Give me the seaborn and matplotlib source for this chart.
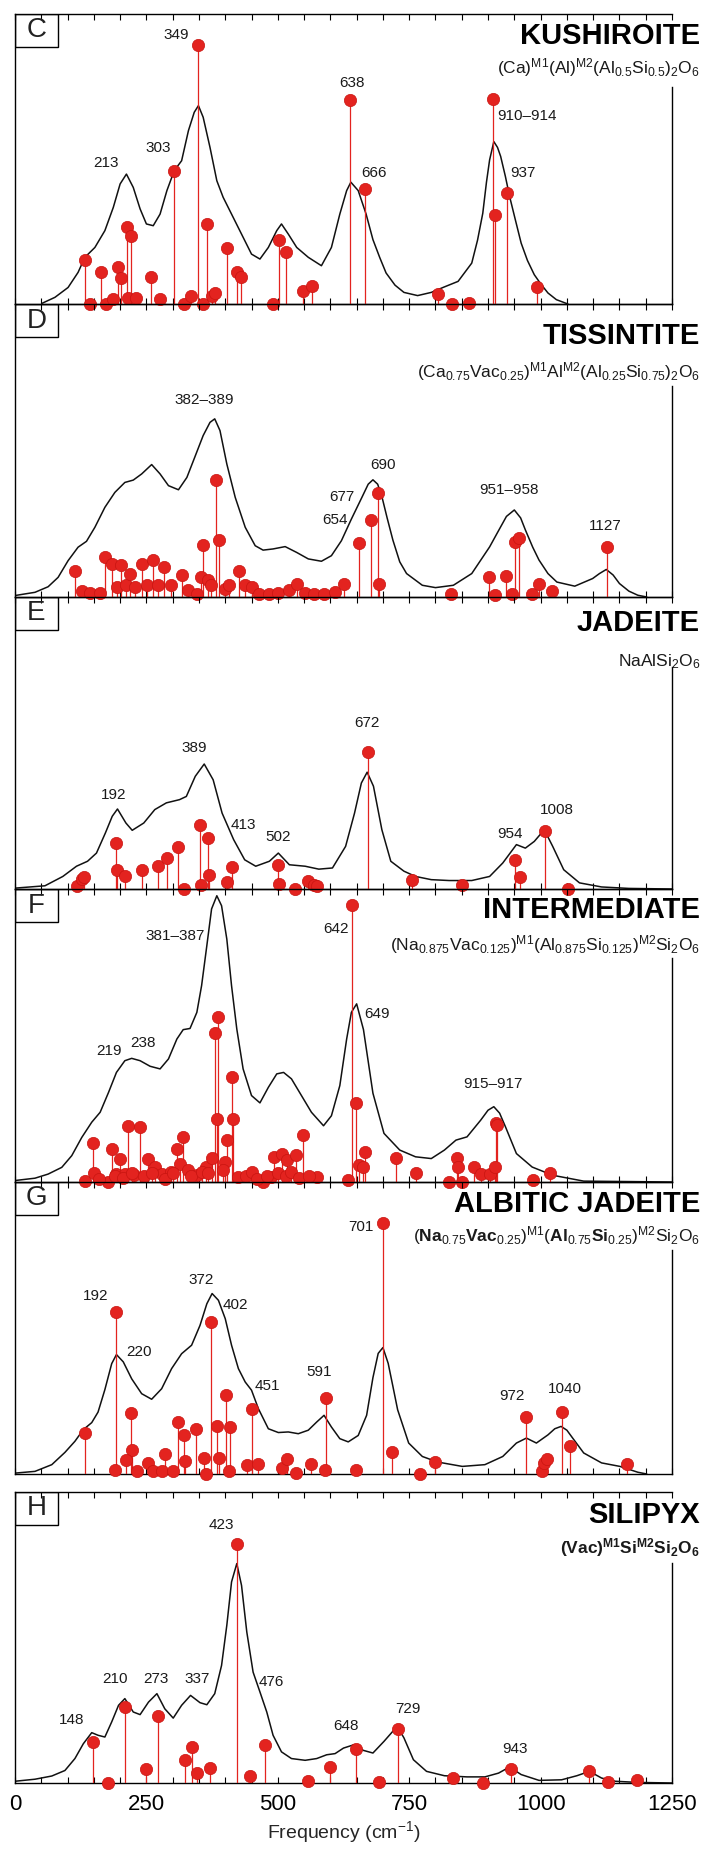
import matplotlib
matplotlib.use("Agg")
import pandas as pd
from matplotlib import pyplot as plt
from matplotlib.patches import Rectangle
import seaborn as sns

# ---------- C : kushiroite ----------
C_CURVE_FREQ = [51, 76, 101, 120, 133, 152, 171, 187, 200, 212, 225, 238, 250, 263, 276, 289, 303, 317, 330, 341,
                349, 358, 371, 384, 396, 412, 431, 450, 466, 482, 498, 507, 520, 536, 558, 583, 602, 618, 631, 639,
                653, 668, 681, 694, 706, 723, 740, 766, 792, 817, 843, 869, 880, 890, 897, 903, 911, 918, 924, 933,
                941, 952, 963, 975, 988, 1000, 1014, 1030, 1052]
C_CURVE_INT = [0.002, 0.023, 0.057, 0.109, 0.161, 0.195, 0.253, 0.333, 0.414, 0.448, 0.402, 0.328, 0.276, 0.270,
               0.310, 0.391, 0.460, 0.494, 0.598, 0.661, 0.684, 0.644, 0.540, 0.425, 0.368, 0.310, 0.241, 0.172,
               0.155, 0.195, 0.253, 0.276, 0.241, 0.195, 0.161, 0.132, 0.195, 0.310, 0.391, 0.420, 0.391, 0.31,
               0.222, 0.16, 0.107, 0.065, 0.040, 0.029, 0.040, 0.059, 0.078, 0.141, 0.22, 0.313, 0.42, 0.497,
               0.560, 0.54, 0.509, 0.44, 0.371, 0.29, 0.210, 0.15, 0.101, 0.07, 0.038, 0.015, 0.0]
C_MODE_FREQ = [134, 142, 164, 174, 187, 196, 202, 213, 221, 215, 230, 258, 275, 303, 322, 334, 349, 358, 366, 375,
               381, 403, 422, 430, 491, 503, 515, 548, 565, 638, 666, 804, 831, 864, 910, 914, 937, 994]
C_MODE_INT = [0.153, 0.001, 0.109, 0.001, 0.017, 0.126, 0.090, 0.264, 0.233, 0.021, 0.021, 0.092, 0.018, 0.457,
              0.001, 0.029, 0.892, 0.001, 0.276, 0.029, 0.038, 0.192, 0.109, 0.093, 0.001, 0.219, 0.180, 0.044,
              0.061, 0.704, 0.396, 0.036, 0.001, 0.003, 0.707, 0.308, 0.382, 0.057]
C_LABELS = ["213", "303", "349", "638", "666", "910\u2013914", "937"]
C_LABEL_FREQ = [174, 273, 306, 642, 683, 975, 967]
C_LABEL_INT = [0.486, 0.537, 0.928, 0.761, 0.453, 0.649, 0.453]

# ---------- D : tissintite ----------
D_CURVE_FREQ = [0, 38, 63, 82, 101, 120, 136, 152, 171, 190, 209, 225, 241, 260, 276, 292, 311, 327, 342, 358,
                371, 380, 390, 403, 419, 438, 457, 472, 491, 514, 536, 558, 583, 602, 621, 640, 660, 672, 681, 690,
                698, 708, 719, 732, 745, 775, 800, 834, 869, 903, 918, 935, 950, 962, 971, 985, 997, 1014, 1031, 1065,
                1099, 1112, 1125, 1138, 1150, 1168, 1185, 1202]
D_CURVE_INT = [0.005, 0.016, 0.035, 0.067, 0.124, 0.170, 0.190, 0.238, 0.306, 0.357, 0.391, 0.399, 0.420, 0.452,
               0.420, 0.380, 0.366, 0.408, 0.477, 0.551, 0.596, 0.608, 0.568, 0.454, 0.340, 0.238, 0.175, 0.160,
               0.164, 0.172, 0.152, 0.130, 0.122, 0.141, 0.192, 0.266, 0.340, 0.385, 0.400, 0.385, 0.343, 0.27,
               0.194, 0.12, 0.080, 0.040, 0.032, 0.040, 0.080, 0.171, 0.22, 0.275, 0.297, 0.27, 0.229, 0.17,
               0.126, 0.08, 0.051, 0.037, 0.063, 0.08, 0.094, 0.075, 0.046, 0.02, 0.006, 0.0]
D_MODE_FREQ = [114, 128, 142, 161, 171, 185, 195, 202, 211, 219, 228, 241, 251, 262, 272, 283, 296, 317, 330, 347,
               353, 358, 367, 373, 382, 389, 399, 407, 427, 437, 450, 465, 484, 501, 522, 537, 552, 569, 587, 608,
               625, 654, 677, 690, 692, 830, 901, 913, 935, 945, 951, 958, 984, 997, 1022, 1127]
D_MODE_INT = [0.089, 0.021, 0.014, 0.014, 0.135, 0.114, 0.034, 0.109, 0.040, 0.080, 0.034, 0.114, 0.040, 0.126,
              0.040, 0.103, 0.040, 0.074, 0.023, 0.011, 0.069, 0.179, 0.057, 0.040, 0.400, 0.194, 0.029, 0.040,
              0.089, 0.040, 0.034, 0.011, 0.011, 0.014, 0.023, 0.043, 0.014, 0.011, 0.011, 0.017, 0.043, 0.183,
              0.263, 0.354, 0.043, 0.009, 0.069, 0.006, 0.071, 0.011, 0.189, 0.203, 0.011, 0.043, 0.021, 0.169]
D_LABELS = ["382\u2013389", "654", "677", "690", "951\u2013958", "1127"]
D_LABEL_FREQ = [360, 608, 622, 700, 939, 1123]
D_LABEL_INT = [0.672, 0.263, 0.341, 0.451, 0.366, 0.242]

# ---------- E : jadeite ----------
E_CURVE_FREQ = [0, 57, 91, 117, 138, 155, 172, 185, 195, 211, 223, 245, 266, 288, 313, 326, 343, 360, 377, 394,
                416, 437, 458, 484, 501, 522, 552, 578, 604, 629, 646, 659, 670, 682, 698, 715, 740, 762, 792, 826,
                869, 903, 928, 954, 971, 988, 1007, 1023, 1044, 1074, 1116, 1168, 1250]
E_CURVE_INT = [0.003, 0.011, 0.043, 0.078, 0.095, 0.123, 0.192, 0.249, 0.274, 0.226, 0.201, 0.226, 0.272, 0.295,
               0.306, 0.317, 0.386, 0.428, 0.374, 0.260, 0.169, 0.100, 0.078, 0.095, 0.123, 0.083, 0.078, 0.068,
               0.072, 0.146, 0.260, 0.363, 0.400, 0.352, 0.203, 0.095, 0.061, 0.043, 0.032, 0.029, 0.029, 0.043,
               0.089, 0.152, 0.140, 0.163, 0.203, 0.146, 0.066, 0.021, 0.007, 0.002, 0.0]
E_MODE_FREQ = [118, 127, 132, 192, 194, 209, 242, 272, 289, 311, 322, 352, 353, 367, 370, 403, 413, 501, 502, 533,
               557, 568, 574, 672, 755, 850, 952, 960, 1008, 1052]
E_MODE_INT = [0.009, 0.034, 0.040, 0.158, 0.064, 0.046, 0.066, 0.080, 0.106, 0.144, 0.0, 0.220, 0.013, 0.175,
              0.049, 0.023, 0.075, 0.083, 0.018, 0.0, 0.026, 0.015, 0.011, 0.470, 0.030, 0.015, 0.100, 0.041,
              0.200, 0.0]
E_LABELS = ["192", "389", "413", "502", "672", "954", "1008"]
E_LABEL_FREQ = [187, 341, 435, 501, 670, 941, 1031]
E_LABEL_INT = [0.323, 0.483, 0.220, 0.178, 0.568, 0.188, 0.269]

# ---------- F : intermediate ----------
F_CURVE_FREQ = [0, 38, 63, 89, 108, 127, 146, 162, 178, 193, 209, 222, 238, 257, 276, 292, 308, 320, 333, 346,
                355, 365, 374, 384, 393, 403, 412, 422, 434, 450, 466, 482, 498, 511, 526, 545, 564, 587, 602, 618,
                631, 640, 650, 663, 681, 702, 732, 762, 792, 817, 839, 860, 886, 900, 911, 922, 933, 954, 984, 1023,
                1082, 1250]
F_CURVE_INT = [0.005, 0.013, 0.027, 0.050, 0.090, 0.152, 0.204, 0.238, 0.306, 0.374, 0.414, 0.422, 0.414, 0.395,
               0.386, 0.420, 0.488, 0.520, 0.524, 0.579, 0.670, 0.807, 0.932, 0.977, 0.943, 0.829, 0.670, 0.522,
               0.386, 0.295, 0.270, 0.323, 0.369, 0.374, 0.352, 0.295, 0.238, 0.192, 0.226, 0.329, 0.488, 0.579,
               0.608, 0.52, 0.303, 0.166, 0.109, 0.086, 0.080, 0.109, 0.143, 0.154, 0.211, 0.245, 0.257, 0.235,
               0.189, 0.097, 0.051, 0.023, 0.003, 0.0]
F_MODE_FREQ = [134, 149, 151, 176, 185, 193, 200, 210, 215, 227, 238, 253, 266, 279, 296, 309, 313, 320, 330, 347,
               364, 374, 381, 384, 387, 399, 404, 412, 414, 425, 471, 488, 493, 508, 518, 535, 548, 574, 633, 642,
               649, 655, 663, 665, 725, 762, 826, 841, 843, 851, 873, 886, 903, 914, 915, 917, 985, 1018,
               160, 190, 205, 222, 245, 260, 285, 300, 335, 355, 368, 395, 440, 450, 460, 480, 500, 515, 525, 540, 560]
F_MODE_INT = [0.002, 0.134, 0.031, 0.0, 0.114, 0.029, 0.080, 0.029, 0.191, 0.023, 0.189, 0.080, 0.051, 0.029,
              0.034, 0.114, 0.063, 0.155, 0.040, 0.023, 0.051, 0.082, 0.509, 0.215, 0.562, 0.069, 0.143, 0.357,
              0.214, 0.017, 0.0, 0.017, 0.086, 0.097, 0.074, 0.091, 0.160, 0.017, 0.006, 0.947, 0.271, 0.057,
              0.051, 0.103, 0.082, 0.031, 0.0, 0.082, 0.051, 0.0, 0.051, 0.029, 0.029, 0.051, 0.200, 0.194,
              0.006, 0.032,
              0.01, 0.02, 0.015, 0.03, 0.02, 0.03, 0.01, 0.03, 0.02, 0.035, 0.03, 0.04, 0.02, 0.035, 0.01, 0.02,
              0.03, 0.02, 0.035, 0.015, 0.02]
F_LABELS = ["219", "238", "381\u2013387", "642", "649", "915\u2013917"]
F_LABEL_FREQ = [179, 243, 305, 611, 689, 909]
F_LABEL_INT = [0.446, 0.474, 0.838, 0.863, 0.575, 0.335]

# ---------- G : albitic jadeite ----------
G_CURVE_FREQ = [0, 38, 70, 95, 114, 130, 146, 158, 171, 184, 193, 206, 222, 241, 260, 279, 298, 317, 336, 352,
                365, 375, 387, 400, 412, 425, 438, 450, 463, 482, 501, 520, 539, 558, 574, 588, 602, 618, 634, 653,
                669, 681, 691, 700, 710, 719, 728, 749, 775, 804, 851, 894, 928, 954, 973, 992, 1014, 1027, 1039,
                1050, 1061, 1082, 1116, 1151, 1185, 1202]
G_CURVE_INT = [0.003, 0.009, 0.032, 0.074, 0.112, 0.152, 0.176, 0.212, 0.289, 0.378, 0.409, 0.384, 0.326, 0.275,
               0.256, 0.292, 0.361, 0.412, 0.441, 0.509, 0.583, 0.618, 0.595, 0.532, 0.441, 0.361, 0.315, 0.287,
               0.224, 0.155, 0.142, 0.144, 0.138, 0.150, 0.178, 0.201, 0.161, 0.121, 0.110, 0.132, 0.201, 0.33,
               0.413, 0.433, 0.379, 0.30, 0.220, 0.106, 0.060, 0.041, 0.026, 0.032, 0.060, 0.106, 0.123, 0.106,
               0.134, 0.155, 0.163, 0.150, 0.123, 0.072, 0.038, 0.026, 0.006, 0.0]
G_MODE_FREQ = [134, 192, 190, 220, 222, 211, 232, 253, 262, 279, 286, 300, 311, 322, 324, 345, 360, 364, 372, 384,
               388, 402, 410, 407, 451, 441, 463, 508, 518, 535, 563, 591, 589, 649, 701, 717, 770, 800, 972, 1003,
               1007, 1012, 1040, 1055, 1165]
G_MODE_INT = [0.140, 0.554, 0.015, 0.208, 0.081, 0.049, 0.009, 0.038, 0.009, 0.009, 0.069, 0.009, 0.178, 0.134,
              0.043, 0.154, 0.055, 0.0, 0.522, 0.163, 0.055, 0.271, 0.161, 0.009, 0.222, 0.032, 0.034, 0.021,
              0.051, 0.003, 0.035, 0.260, 0.015, 0.015, 0.861, 0.077, 0.0, 0.040, 0.194, 0.009, 0.038, 0.051,
              0.212, 0.095, 0.035]
G_LABELS = ["192", "220", "372", "402", "451", "591", "701", "972", "1040"]
G_LABEL_FREQ = [153, 235, 354, 420, 480, 578, 659, 945, 1046]
G_LABEL_INT = [0.610, 0.419, 0.664, 0.579, 0.303, 0.351, 0.846, 0.268, 0.290]

# ---------- H : silipyx ----------
H_CURVE_FREQ = [0, 38, 70, 95, 114, 130, 146, 158, 171, 184, 197, 209, 225, 238, 254, 270, 285, 301, 317, 334,
                352, 365, 380, 393, 403, 412, 422, 431, 441, 453, 466, 479, 491, 507, 526, 552, 574, 593, 609, 625,
                644, 663, 681, 702, 719, 730, 740, 758, 783, 817, 860, 894, 920, 941, 963, 997, 1040, 1069, 1093,
                1116, 1142, 1185, 1250]
H_CURVE_INT = [0.006, 0.013, 0.024, 0.043, 0.084, 0.135, 0.173, 0.164, 0.158, 0.210, 0.267, 0.290, 0.244, 0.235,
               0.278, 0.307, 0.255, 0.223, 0.267, 0.301, 0.276, 0.269, 0.307, 0.404, 0.542, 0.691, 0.754, 0.679,
               0.519, 0.381, 0.313, 0.244, 0.164, 0.107, 0.084, 0.078, 0.084, 0.097, 0.101, 0.120, 0.131, 0.112,
               0.103, 0.143, 0.178, 0.186, 0.155, 0.080, 0.040, 0.025, 0.021, 0.021, 0.034, 0.055, 0.029, 0.009,
               0.011, 0.025, 0.040, 0.017, 0.006, 0.002, 0.0]
H_MODE_FREQ = [148, 177, 210, 249, 273, 324, 337, 347, 371, 423, 448, 476, 558, 600, 648, 693, 729, 834, 890, 943,
               1093, 1129, 1183]
H_MODE_INT = [0.140, 0.0, 0.260, 0.048, 0.231, 0.080, 0.123, 0.034, 0.052, 0.821, 0.025, 0.129, 0.006, 0.055,
              0.117, 0.002, 0.186, 0.017, 0.0, 0.048, 0.040, 0.002, 0.009]
H_LABELS = ["148", "210", "273", "337", "423", "476", "648", "729", "943"]
H_LABEL_FREQ = [108, 191, 269, 347, 393, 487, 630, 747, 952]
H_LABEL_INT = [0.215, 0.357, 0.357, 0.357, 0.888, 0.346, 0.195, 0.254, 0.117]

LETTERS = ["C", "D", "E", "F", "G", "H"]
NAMES = ["KUSHIROITE", "TISSINTITE", "JADEITE", "INTERMEDIATE", "ALBITIC JADEITE", "SILIPYX"]
FORMULAS = [
    r"(Ca)$^{\mathrm{M1}}$(Al)$^{\mathrm{M2}}$(Al$_{0.5}$Si$_{0.5}$)$_2$O$_6$",
    r"(Ca$_{0.75}$Vac$_{0.25}$)$^{\mathrm{M1}}$Al$^{\mathrm{M2}}$(Al$_{0.25}$Si$_{0.75}$)$_2$O$_6$",
    r"NaAlSi$_2$O$_6$",
    r"(Na$_{0.875}$Vac$_{0.125}$)$^{\mathrm{M1}}$(Al$_{0.875}$Si$_{0.125}$)$^{\mathrm{M2}}$Si$_2$O$_6$",
    r"($\mathbf{Na}_{0.75}\mathbf{Vac}_{0.25}$)$^{\mathrm{M1}}$($\mathbf{Al}_{0.75}\mathbf{Si}_{0.25}$)"
    r"$^{\mathrm{M2}}$Si$_2$O$_6$",
    r"$\mathbf{(Vac)^{M1}Si^{M2}Si_2O_6}$",
]

# layout (pixel rows of each panel in the 704x1854 figure), title/formula heights, right-spine top
PANEL_PX = [(14, 304), (304, 597), (597, 889), (889, 1182), (1182, 1474), (1492, 1783)]
TITLE_Y = [0.924, 0.891, 0.911, 0.928, 0.925, 0.921]
FORMULA_Y = [0.814, 0.768, 0.777, 0.809, 0.818, 0.808]
SPINE_TOP = [0.748, 0.72, 0.76, 0.765, 0.767, 0.756]

RED = "#e3231f"

sns.set_theme(style="white")
plt.rcParams["font.family"] = ["Liberation Sans", "DejaVu Sans"]
plt.rcParams["mathtext.fontset"] = "custom"
plt.rcParams["mathtext.rm"] = "Liberation Sans"
plt.rcParams["mathtext.it"] = "Liberation Sans:italic"
plt.rcParams["mathtext.bf"] = "Liberation Sans:bold"

panels = [
    (C_CURVE_FREQ, C_CURVE_INT, C_MODE_FREQ, C_MODE_INT, C_LABELS, C_LABEL_FREQ, C_LABEL_INT),
    (D_CURVE_FREQ, D_CURVE_INT, D_MODE_FREQ, D_MODE_INT, D_LABELS, D_LABEL_FREQ, D_LABEL_INT),
    (E_CURVE_FREQ, E_CURVE_INT, E_MODE_FREQ, E_MODE_INT, E_LABELS, E_LABEL_FREQ, E_LABEL_INT),
    (F_CURVE_FREQ, F_CURVE_INT, F_MODE_FREQ, F_MODE_INT, F_LABELS, F_LABEL_FREQ, F_LABEL_INT),
    (G_CURVE_FREQ, G_CURVE_INT, G_MODE_FREQ, G_MODE_INT, G_LABELS, G_LABEL_FREQ, G_LABEL_INT),
    (H_CURVE_FREQ, H_CURVE_INT, H_MODE_FREQ, H_MODE_INT, H_LABELS, H_LABEL_FREQ, H_LABEL_INT),
]

W, H = 704, 1854
fig = plt.figure(figsize=(W / 100, H / 100), dpi=100)
fig.patch.set_facecolor("white")

for i, (cf, ci, mf, mi, lt, lf, li) in enumerate(panels):
    top, bot = PANEL_PX[i]
    ax = fig.add_axes([15 / W, 1 - bot / H, 657 / W, (bot - top) / H])
    ax.set_facecolor("none")

    curve = pd.DataFrame({"freq": cf, "inten": ci})
    modes = pd.DataFrame({"freq": mf, "inten": mi})

    sns.lineplot(data=curve, x="freq", y="inten", ax=ax, color="#111111", lw=1.1,
                 estimator=None, sort=False, zorder=2)
    ax.vlines(modes["freq"], 0, modes["inten"], color=RED, lw=0.9, zorder=3)
    sns.scatterplot(data=modes, x="freq", y="inten", ax=ax, color=RED, s=78,
                    edgecolor="#c81410", linewidth=0.5, zorder=4, clip_on=False)

    for t, x, y in zip(lt, lf, li):
        ax.text(x, y, t, ha="center", va="center", fontsize=11, color="#1a1a1a", zorder=5)

    ax.set_xlim(0, 1250)
    ax.set_ylim(0, 1)
    ax.set_yticks([])
    ax.set_xticks(range(0, 1251, 50))
    ax.set_xticklabels([str(v) if v % 250 == 0 else "" for v in range(0, 1251, 50)])
    ax.tick_params(axis="x", direction="in", top=True, bottom=True, length=4, width=0.8,
                   labelbottom=(i == 5), labelsize=16, pad=8, colors="black")
    for s in ax.spines.values():
        s.set_color("black")
        s.set_linewidth(1.0)
    ax.spines["right"].set_bounds(0, SPINE_TOP[i])
    ax.set_ylabel("")
    if i == 5:
        ax.set_xlabel("Frequency (cm$^{-1}$)", fontsize=14, labelpad=3)
    else:
        ax.set_xlabel("")

    ax.add_patch(Rectangle((0, 1 - 0.113), 0.0655, 0.113, transform=ax.transAxes,
                           fill=False, edgecolor="black", lw=1.0, zorder=6))
    ax.text(0.0327, 1 - 0.0565, LETTERS[i], transform=ax.transAxes, ha="center", va="center",
            fontsize=20, color="#222222", zorder=6)
    ax.text(1.0426, TITLE_Y[i], NAMES[i], transform=ax.transAxes, ha="right", va="center",
            fontsize=21, fontweight="bold", color="black", clip_on=False)
    ax.text(1.0426, FORMULA_Y[i], FORMULAS[i], transform=ax.transAxes, ha="right", va="center",
            fontsize=12.5, color="#1a1a1a", clip_on=False)

fig.savefig("out.png", dpi=100)
